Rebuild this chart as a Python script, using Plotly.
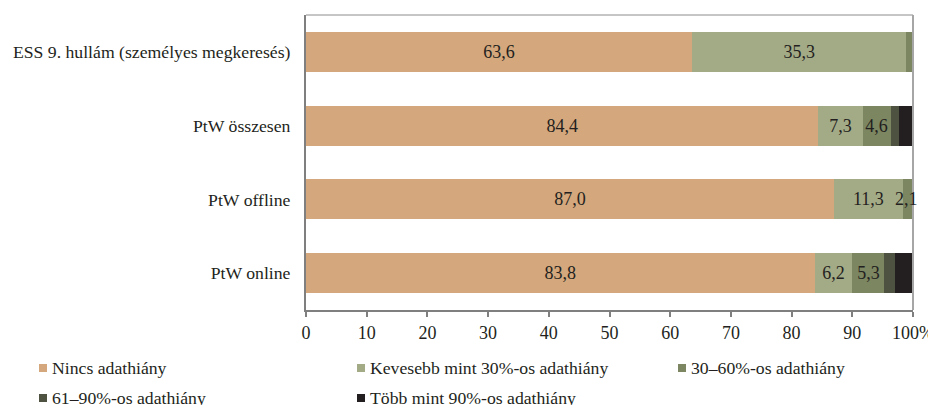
import plotly.graph_objects as go

categories = ["ESS 9. hullám (személyes megkeresés)", "PtW összesen", "PtW offline", "PtW online"]
series_names = ["Nincs adathiány", "Kevesebb mint 30%-os adathiány", "30–60%-os adathiány",
                "61–90%-os adathiány", "Több mint 90%-os adathiány"]
nincs = [63.6, 84.4, 87.0, 83.8]
kevesebb = [35.3, 7.3, 11.3, 6.2]
kozepes = [1.1, 4.6, 2.1, 5.3]
magas = [0.0, 1.4, 0.0, 1.7]
tobb = [0.0, 2.3, 0.0, 3.0]
x_ticks = [0, 10, 20, 30, 40, 50, 60, 70, 80, 90, 100]
x_tick_labels = ["0", "10", "20", "30", "40", "50", "60", "70", "80", "90", "100%"]

series_values = [nincs, kevesebb, kozepes, magas, tobb]
colors = ["#D4A77C", "#A3AA86", "#7C8660", "#4E5241", "#231F20"]
show_labels = [True, True, True, False, False]

FONT = "Liberation Serif, Times New Roman, serif"
FS = 18
TXT = "#231F20"
# page body has an 8px margin; figure is sized to the visible part of the window
OFF = 8
W, H = 936 - OFF, 405 - OFF
ML, MR, MT, MB = 306 - OFF, 23, 15 - OFF, 95
PW, PH = W - ML - MR, H - MT - MB

def px_x(x):
    return (x - OFF - ML) / PW

def px_y(y):
    return (H - MB - (y - OFF)) / PH

def fmt(v):
    return f"{v:.1f}".replace(".", ",")

fig = go.Figure()
annotations = []
cum = [0.0] * len(categories)
for name, vals, col, lab in zip(series_names, series_values, colors, show_labels):
    texts = []
    for i, v in enumerate(vals):
        if lab and v >= 3:
            texts.append(fmt(v))
        else:
            texts.append("")
            if lab and v >= 2:
                annotations.append(dict(xref="x", yref="y", x=cum[i] + v / 2 - 0.4, y=categories[i],
                                        text=fmt(v), showarrow=False, xanchor="center",
                                        yanchor="middle",
                                        font=dict(family=FONT, size=FS, color=TXT)))
        cum[i] += v
    fig.add_trace(go.Bar(
        y=categories, x=vals, name=name, orientation="h",
        marker=dict(color=col, line=dict(width=0)),
        text=texts, textposition="inside", insidetextanchor="middle",
        constraintext="none", textangle=0,
        textfont=dict(family=FONT, size=FS, color=TXT),
        showlegend=False, hoverinfo="skip",
    ))

shapes = [
    dict(type="line", xref="paper", yref="paper", x0=0, x1=1, y0=1, y1=1,
         line=dict(color="#8c8c8c", width=1)),
    dict(type="line", xref="paper", yref="paper", x0=1, x1=1, y0=0, y1=1,
         line=dict(color="#a6a6a6", width=2)),
]
legend_pos = [(39, 368), (357, 368), (678, 368), (39, 398), (357, 398)]
for name, col, (lx, ly) in zip(series_names, colors, legend_pos):
    shapes.append(dict(type="rect", xref="paper", yref="paper",
                       x0=px_x(lx), x1=px_x(lx + 8), y0=px_y(ly - 4), y1=px_y(ly + 4),
                       fillcolor=col, line=dict(width=0)))
    annotations.append(dict(xref="paper", yref="paper", x=px_x(lx + 11), y=px_y(ly),
                            xanchor="left", yanchor="middle", text=name, showarrow=False,
                            font=dict(family=FONT, size=17.7, color=TXT)))

fig.update_layout(
    width=W, height=H,
    margin=dict(l=ML, r=MR, t=MT, b=MB, autoexpand=False),
    barmode="stack", bargap=0.458,
    plot_bgcolor="white", paper_bgcolor="white",
    font=dict(family=FONT, size=FS, color=TXT),
    xaxis=dict(range=[0, 100], tickvals=x_ticks, ticktext=x_tick_labels, automargin=False,
               showgrid=False, zeroline=False, showline=True, linecolor="#7f7f7f", linewidth=2,
               ticks="outside", ticklen=5, tickcolor="#7f7f7f", tickwidth=2,
               tickfont=dict(family=FONT, size=FS, color=TXT)),
    yaxis=dict(categoryorder="array", categoryarray=categories, autorange="reversed",
               automargin=False,
               showgrid=False, zeroline=False, showline=True, linecolor="#7f7f7f", linewidth=2,
               ticks="", ticklabelstandoff=10,
               tickfont=dict(family=FONT, size=17.7, color=TXT)),
    shapes=shapes, annotations=annotations,
)

fig.write_html("out.html")
